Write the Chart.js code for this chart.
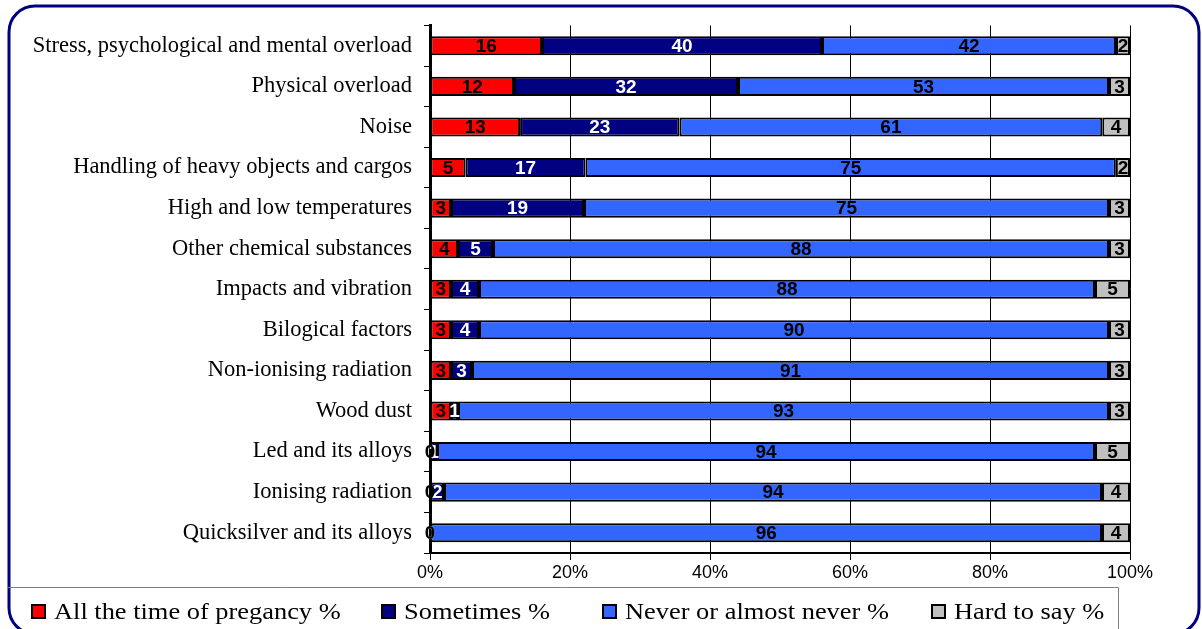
<!DOCTYPE html>
<html>
<head>
<meta charset="utf-8">
<script src="https://cdn.jsdelivr.net/npm/chart.js@4/dist/chart.umd.min.js"></script>
<style>
  html, body { margin: 0; padding: 0; background: #fff; }
  #wrap { width: 1202px; height: 629px; position: relative; }
</style>
</head>
<body>
<div id="wrap"><canvas id="myChart" width="1202" height="629"></canvas></div>
<script>
// categories (top to bottom)
const categories = [
  "Stress, psychological and mental overload",
  "Physical overload",
  "Noise",
  "Handling of heavy objects and cargos",
  "High and low temperatures",
  "Other chemical substances",
  "Impacts and vibration",
  "Bilogical factors",
  "Non-ionising radiation",
  "Wood dust",
  "Led and its alloys",
  "Ionising radiation",
  "Quicksilver and its alloys"
];

// series values, %
const allTime   = [16, 12, 13, 5, 3, 4, 3, 3, 3, 3, 0, 0, 0];
const sometimes = [40, 32, 23, 17, 19, 5, 4, 4, 3, 1, 1, 2, 0];
const never     = [42, 53, 61, 75, 75, 88, 88, 90, 91, 93, 94, 94, 96];
const hardToSay = [2, 3, 4, 2, 3, 3, 5, 3, 3, 3, 5, 4, 4];

const seriesNames = ["All the time of pregancy %", "Sometimes %", "Never or almost never %", "Hard to say %"];
const xTicks = [0, 20, 40, 60, 80, 100];

const colors = ["#FF0000", "#000080", "#3366FF", "#C0C0C0"];
const labelColors = ["#000", "#fff", "#000", "#000"];
const raw = [allTime, sometimes, never, hardToSay];

// 100% stacked: share of each row total
const totals = categories.map((c, i) => raw.reduce((s, arr) => s + arr[i], 0));

const datasets = raw.map((arr, k) => ({
  label: seriesNames[k],
  data: arr.map((v, i) => v / totals[i] * 100),
  rawValues: arr,
  backgroundColor: colors[k],
  borderColor: "#000",
  borderWidth: 2,
  borderSkipped: false,
  barPercentage: 0.47,
  categoryPercentage: 1
}));

// draw the value labels in the middle of each segment
// (last series first so the black zeros of the first one stay on top)
const valueLabels = {
  id: "valueLabels",
  afterDatasetsDraw(chart) {
    const ctx = chart.ctx;
    ctx.save();
    ctx.font = "bold 19px 'Liberation Sans', Arial, sans-serif";
    ctx.textAlign = "center";
    ctx.textBaseline = "middle";
    for (let k = chart.data.datasets.length - 1; k >= 0; k--) {
      const ds = chart.data.datasets[k];
      const meta = chart.getDatasetMeta(k);
      meta.data.forEach((el, i) => {
        const x = (el.x + el.base) / 2;
        ctx.fillStyle = labelColors[k];
        ctx.fillText(String(ds.rawValues[i]), x, el.y + 1);
      });
    }
    ctx.restore();
  }
};

// rounded frame and the legend box at the bottom
const frameAndLegend = {
  id: "frameAndLegend",
  afterDraw(chart) {
    const ctx = chart.ctx;
    ctx.save();
    // outer rounded frame
    ctx.strokeStyle = "#000080";
    ctx.lineWidth = 3;
    ctx.beginPath();
    ctx.roundRect(9, 6, 1190, 628, 26);
    ctx.stroke();

    // legend box lines
    ctx.strokeStyle = "#808080";
    ctx.lineWidth = 1;
    ctx.beginPath();
    ctx.moveTo(8, 587.5);
    ctx.lineTo(1118.5, 587.5);
    ctx.lineTo(1118.5, 629);
    ctx.stroke();

    // legend entries
    const markerX = [32, 382, 603, 932];
    ctx.textBaseline = "middle";
    ctx.textAlign = "left";
    seriesNames.forEach((name, k) => {
      ctx.fillStyle = colors[k];
      ctx.fillRect(markerX[k], 605, 13, 13);
      ctx.strokeStyle = "#000";
      ctx.lineWidth = 2;
      ctx.strokeRect(markerX[k], 605, 13, 13);
      ctx.save();
      ctx.translate(markerX[k] + 22, 613);
      ctx.scale(1.1, 1);
      ctx.font = "24px 'Liberation Serif', 'Times New Roman', serif";
      ctx.fillStyle = "#000";
      ctx.fillText(name, 0, 0);
      ctx.restore();
    });
    ctx.restore();
  }
};

const myChart = document.getElementById("myChart");

new Chart(myChart, {
  type: "bar",
  data: { labels: categories, datasets: datasets },
  plugins: [valueLabels, frameAndLegend],
  options: {
    indexAxis: "y",
    responsive: false,
    animation: false,
    layout: { padding: { left: 0, right: 72, top: 25, bottom: 41 } },
    plugins: {
      legend: { display: false },
      tooltip: { enabled: false }
    },
    scales: {
      x: {
        stacked: true,
        min: 0,
        max: 100,
        afterBuildTicks(scale) {
          scale.ticks = xTicks.map(v => ({ value: v }));
        },
        afterFit(scale) { scale.height = 35; },
        ticks: {
          color: "#000",
          font: { family: "'Liberation Sans', Arial, sans-serif", size: 18 },
          padding: 2,
          maxRotation: 0,
          callback: v => v + "%"
        },
        grid: { color: "#000", lineWidth: 1, tickLength: 7, drawTicks: true },
        border: { color: "#000", width: 2 }
      },
      y: {
        stacked: true,
        afterFit(scale) { scale.width = 430; },
        ticks: {
          color: "#000",
          font: { family: "'Liberation Serif', 'Times New Roman', serif", size: 22.5 },
          padding: 12
        },
        grid: { drawOnChartArea: false, color: "#000", tickLength: 6, offset: true },
        border: { color: "#000", width: 3 }
      }
    }
  }
});
</script>
</body>
</html>
